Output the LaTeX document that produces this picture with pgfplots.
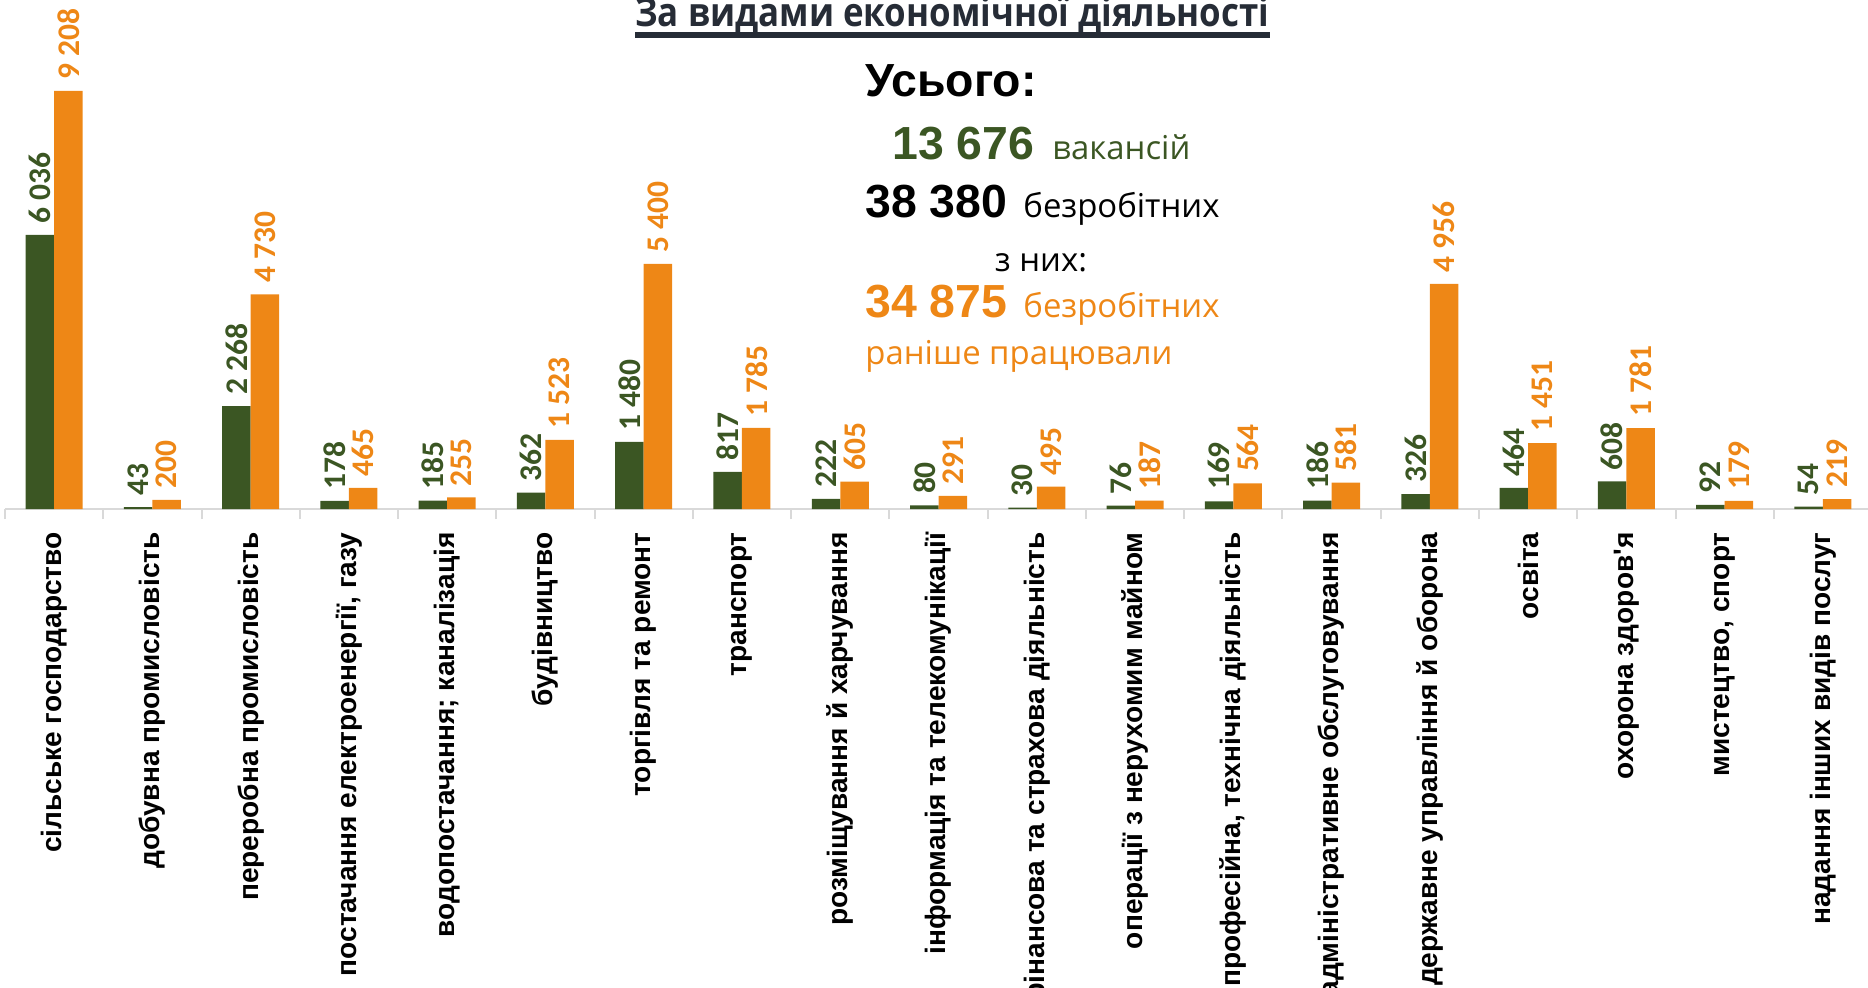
\documentclass[border=0pt]{standalone}
\usepackage{fontspec}
\usepackage{pgfplots}
\pgfplotsset{compat=1.18}
\setmainfont{Liberation Sans}
\newfontfamily\catfont[Ligatures=TeXOff]{Liberation Sans}
\newfontfamily\calfont{Carlito}
\newfontfamily\osfont{Open Sans}
\definecolor{grn}{HTML}{3B5623}
\definecolor{org}{HTML}{EE8716}
\definecolor{ttl}{HTML}{262C36}
\definecolor{axgray}{HTML}{D9D9D9}

\begin{document}
\begin{tikzpicture}[x=0.5bp,y=0.5bp]
\coordinate (axo) at (5,478);
\begin{axis}[
  at={(axo)}, anchor=south west,
  scale only axis, width=933.5bp, height=227bp,
  xmin=-0.5, xmax=18.5, ymin=0, ymax=10000,
  ybar=0pt, bar width=14.25bp,
  axis x line*=bottom, axis y line=none,
  x axis line style={draw=axgray, line width=1bp},
  xtick={0,...,18},
  xticklabels={
    сільське господарство,
    добувна промисловість,
    переробна промисловість,
    {постачання електроенергії, газу},
    водопостачання; каналізація,
    будівництво,
    торгівля та ремонт,
    транспорт,
    розміщування й харчування,
    інформація та телекомунікації,
    фінансова та страхова діяльність,
    операції з нерухомим майном,
    {професійна, технічна діяльність},
    адміністративне обслуговування,
    державне управління й оборона,
    освіта,
    охорона здоров'я,
    {мистецтво, спорт},
    надання інших видів послуг},
  major tick length=0pt,
  extra x ticks={-0.5,0.5,...,18.5},
  extra x tick labels={},
  extra x tick style={tick align=outside, major tick length=5bp,
    tick style={draw=axgray, line width=1bp}},
  xticklabel style={rotate=90, anchor=east, inner sep=0pt,
    font=\catfont\bfseries\fontsize{14.1}{15}\selectfont},
  xticklabel shift=11.5bp,
  nodes near coords,
  every node near coord/.append style={rotate=90, anchor=west,
    inner ysep=0pt, inner xsep=5.5bp,
    font=\calfont\bfseries\fontsize{15.8}{16}\selectfont},
  /pgf/number format/.cd, fixed, precision=0, 1000 sep={\ }, assume math mode=true
]
\addplot[fill=grn, draw=none, every node near coord/.append style={text=grn}] coordinates {
  (0,6036) (1,43) (2,2268) (3,178) (4,185) (5,362) (6,1480) (7,817) (8,222)
  (9,80) (10,30) (11,76) (12,169) (13,186) (14,326) (15,464) (16,608) (17,92) (18,54)};
\addplot[fill=org, draw=none, every node near coord/.append style={text=org}] coordinates {
  (0,9208) (1,200) (2,4730) (3,465) (4,255) (5,1523) (6,5400) (7,1785) (8,605)
  (9,291) (10,495) (11,187) (12,564) (13,581) (14,4956) (15,1451) (16,1781) (17,179) (18,219)};
\end{axis}

% title (cut at the top edge, as in the reference)
\node[anchor=base west, inner sep=0pt, text=ttl] at (635,960)
  {\scalebox{0.875}[1]{\osfont\bfseries\fontsize{20}{22}\selectfont За видами економічної діяльності}};
\draw[ttl, line width=3bp] (635,952) -- (1270,952);

% totals
\node[anchor=base west, inner sep=0pt] at (865,890)
  {\bfseries\fontsize{23.3}{28}\selectfont Усього:};
\node[anchor=base west, inner sep=0pt, text=grn] at (892,827)
  {{\bfseries\fontsize{23.3}{28}\selectfont 13 676}\hspace{9bp}{\osfont\fontsize{16.5}{20}\selectfont вакансій}};
\node[anchor=base west, inner sep=0pt] at (865,769)
  {{\bfseries\fontsize{23.3}{28}\selectfont 38 380}\hspace{8bp}{\osfont\fontsize{16.5}{20}\selectfont безробітних}};
\node[anchor=base, inner sep=0pt] at (1041,715)
  {\osfont\fontsize{16.5}{20}\selectfont з них:};
\node[anchor=base west, inner sep=0pt, text=org] at (865,669)
  {{\bfseries\fontsize{23.3}{28}\selectfont 34 875}\hspace{8bp}{\osfont\fontsize{16.5}{20}\selectfont безробітних}};
\node[anchor=base west, inner sep=0pt, text=org] at (865,622)
  {\osfont\fontsize{16.5}{20}\selectfont раніше працювали};

\pgfresetboundingbox
\useasboundingbox (0,0) rectangle (1868,987);
\end{tikzpicture}
\end{document}
